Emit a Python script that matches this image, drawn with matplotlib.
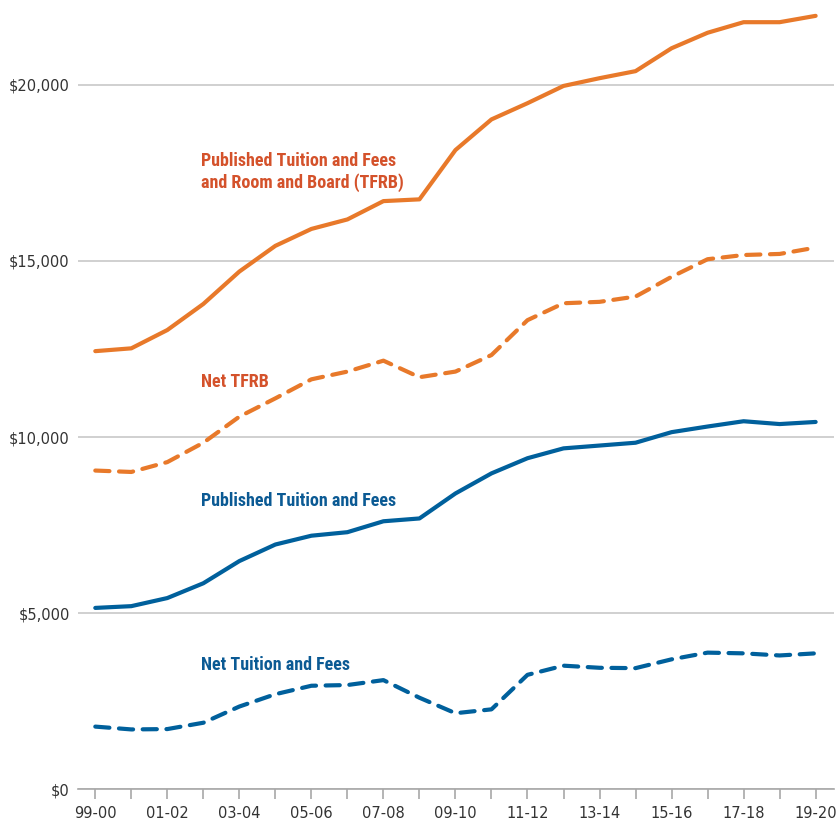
import matplotlib
matplotlib.use("Agg")
import matplotlib.pyplot as plt
from matplotlib.ticker import FuncFormatter
from matplotlib import font_manager

years = ["99-00", "00-01", "01-02", "02-03", "03-04", "04-05", "05-06", "06-07",
         "07-08", "08-09", "09-10", "10-11", "11-12", "12-13", "13-14", "14-15",
         "15-16", "16-17", "17-18", "18-19", "19-20"]
published_tfrb = [12440, 12520, 13040, 13780, 14700, 15430, 15910, 16180, 16700, 16750,
                  18150, 19020, 19480, 19970, 20190, 20390, 21040, 21480, 21780, 21780, 21960]
net_tfrb = [9050, 9010, 9290, 9840, 10580, 11100, 11640, 11860, 12170, 11700,
            11860, 12330, 13320, 13800, 13840, 13990, 14550, 15050, 15170, 15200, 15380]
published_tf = [5150, 5200, 5430, 5850, 6480, 6950, 7200, 7300, 7610, 7690,
                8400, 8970, 9400, 9680, 9760, 9840, 10140, 10300, 10450, 10370, 10430]
net_tf = [1780, 1700, 1710, 1890, 2350, 2700, 2940, 2960, 3100, 2600,
          2160, 2270, 3250, 3510, 3450, 3440, 3690, 3880, 3860, 3800, 3860]
yticks = [0, 5000, 10000, 15000, 20000]

ORANGE = "#E8792A"
ORANGE_TXT = "#D4522B"
BLUE = "#00609C"
BLUE_TXT = "#0B5A94"

names = {f.name for f in font_manager.fontManager.ttflist}
label_font = None
for cand in ["Roboto Condensed", "Liberation Sans Narrow", "Open Sans Condensed",
             "Noto Sans Condensed", "DejaVu Sans Condensed"]:
    if cand in names:
        label_font = dict(family=cand, weight="bold")
        fs = 13
        break
if label_font is None:
    label_font = dict(family="DejaVu Sans", weight="bold", stretch="condensed")
    fs = 11.2

W, H = 838, 821
fig = plt.figure(figsize=(W / 100, H / 100), dpi=100)
ax = fig.add_axes([78 / W, 1 - 789.3 / H, (834 - 78) / W, 789.3 / H])

x = list(range(len(years)))
lw = 3.0
dash = (0, (3.4, 2.3))
ax.plot(x, published_tfrb, color=ORANGE, lw=lw, solid_capstyle="round", zorder=3)
ax.plot(x, net_tfrb, color=ORANGE, lw=lw, ls=dash, dash_capstyle="round", zorder=3)
ax.plot(x, published_tf, color=BLUE, lw=lw, solid_capstyle="round", zorder=3)
ax.plot(x, net_tf, color=BLUE, lw=lw, ls=dash, dash_capstyle="round", zorder=3)

ax.set_xlim(-0.48, 20.51)
ax.set_ylim(0, 22410)
ax.set_yticks(yticks)
ax.yaxis.set_major_formatter(FuncFormatter(lambda v, p: f"${int(v):,}"))
ax.set_xticks(x)
ax.set_xticklabels([y if i % 2 == 0 else "" for i, y in enumerate(years)])

ax.grid(axis="y", color="#C8C8C8", lw=1.2)
ax.set_axisbelow(True)
for s in ["top", "right", "left"]:
    ax.spines[s].set_visible(False)
ax.spines["bottom"].set_color("#A8A8A8")
ax.spines["bottom"].set_linewidth(1.2)
ax.tick_params(axis="y", length=0, pad=6, labelsize=10.5, labelcolor="#333333")
ax.tick_params(axis="x", length=7, width=1.2, color="#A8A8A8", pad=5, labelsize=10.5,
               labelcolor="#333333")


def label(px, py, s, color):
    fig.text(px / W, 1 - py / H, s, color=color, fontsize=fs,
             va="baseline", ha="left", **label_font)


label(201, 166, "Published Tuition and Fees", ORANGE_TXT)
label(201, 188, "and Room and Board (TFRB)", ORANGE_TXT)
label(201, 387, "Net TFRB", ORANGE_TXT)
label(201, 506, "Published Tuition and Fees", BLUE_TXT)
label(201, 670, "Net Tuition and Fees", BLUE_TXT)

fig.savefig("out.png", dpi=100)
